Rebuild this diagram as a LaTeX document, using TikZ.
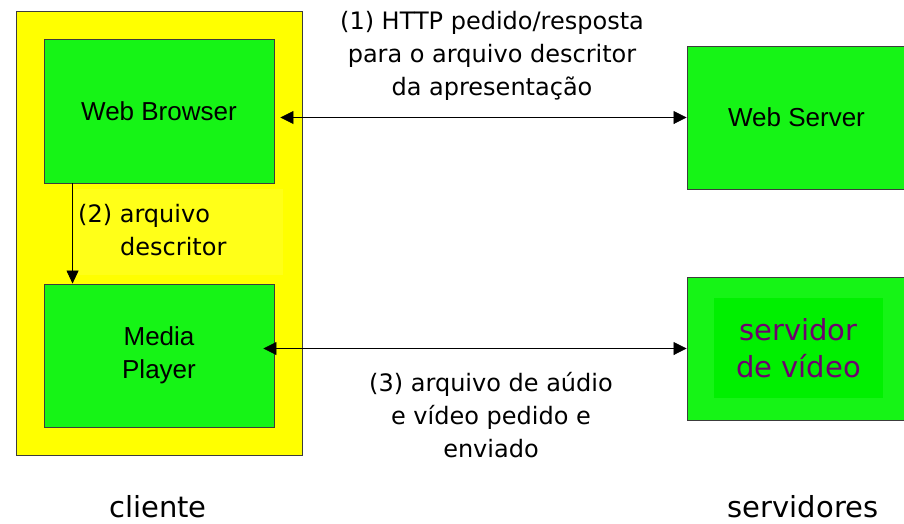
\documentclass[tikz,border=0pt]{standalone}
\usepackage{fontspec}
\setmainfont{DejaVu Sans}
\newfontfamily\boxfont{Liberation Sans}
\usetikzlibrary{arrows.meta}
\definecolor{clientyellow}{RGB}{255,255,0}
\definecolor{labelyellow}{RGB}{255,255,24}
\definecolor{boxgreen}{RGB}{22,244,22}
\definecolor{innergreen}{RGB}{0,240,0}
\definecolor{boxedge}{RGB}{60,60,60}
\definecolor{videopurple}{RGB}{110,0,110}
\tikzset{
  panel/.style={draw=boxedge, line width=0.9pt, inner sep=0pt, anchor=center},
  module/.style={panel, fill=boxgreen, minimum width=230pt, minimum height=144pt,
    font=\boxfont\fontsize{26}{33}\selectfont, align=center},
  server/.style={panel, fill=boxgreen, minimum width=219pt, minimum height=143pt,
    font=\boxfont\fontsize{26}{33}\selectfont, align=center},
  note/.style={font=\fontsize{24}{33}\selectfont, align=center, inner sep=0pt},
  caption/.style={font=\fontsize{29}{33}\selectfont, inner sep=0pt},
  tip/.style={Triangle[length=13pt,width=13pt]},
  flow/.style={draw=black, line width=0.8pt, -{Triangle[length=13pt,width=12pt]}},
  dualflow/.style={draw=black, line width=0.8pt, {Triangle[length=13pt,width=13pt]}-{Triangle[length=13pt,width=13pt]}}
}
\begin{document}
\begin{tikzpicture}[x=1pt, y=-1pt]
  \useasboundingbox (0,0) rectangle (904,523);

  % client side
  \node[panel, fill=clientyellow, minimum width=286pt, minimum height=444pt] (client) at (159,233) {};
  \node[module] (wb) at (159,111) {Web Browser};
  \node[module, minimum height=143pt] (mp) at (159,355.5) {Media\\Player};

  % server side
  \node[server] (ws) at (796.5,117.5) {Web Server};
  \node[server] (vs) at (796.5,348.5) {};
  \node[fill=innergreen, minimum width=169pt, minimum height=100pt, inner sep=0pt,
        font=\fontsize{29}{37}\selectfont, text=videopurple, align=center]
        (vsinner) at (798.5,348) {servidor\\de vídeo};

  % step (2): descriptor handed to the player
  \node[fill=labelyellow, minimum width=209pt, minimum height=86pt, inner sep=0pt] (d2bg) at (178.5,232) {};
  \node[note, align=left, anchor=north west] (d2) at (78,204) {(2) arquivo\\\hspace*{42pt}descritor};
  \draw[flow] ([xshift=29pt]wb.south west) -- ([xshift=29pt]mp.north west);

  % step (1): HTTP exchange
  \draw[dualflow, shorten <=6pt] (ws.west -| wb.east) -- (ws.west);
  \node[note] (d1) at (492,56) {(1) HTTP pedido/resposta\\para o arquivo descritor\\da apresentação};

  % step (3): media stream
  \draw[dualflow, shorten <=-11pt] (vs.west -| mp.east) -- (vs.west);
  \node[note] (d3) at (491,415) {(3) arquivo de aúdio\\e vídeo pedido e\\enviado};

  % captions
  \node[caption] (cl) at (158,507) {cliente};
  \node[caption] (sv) at (803,507) {servidores};
\end{tikzpicture}
\end{document}
